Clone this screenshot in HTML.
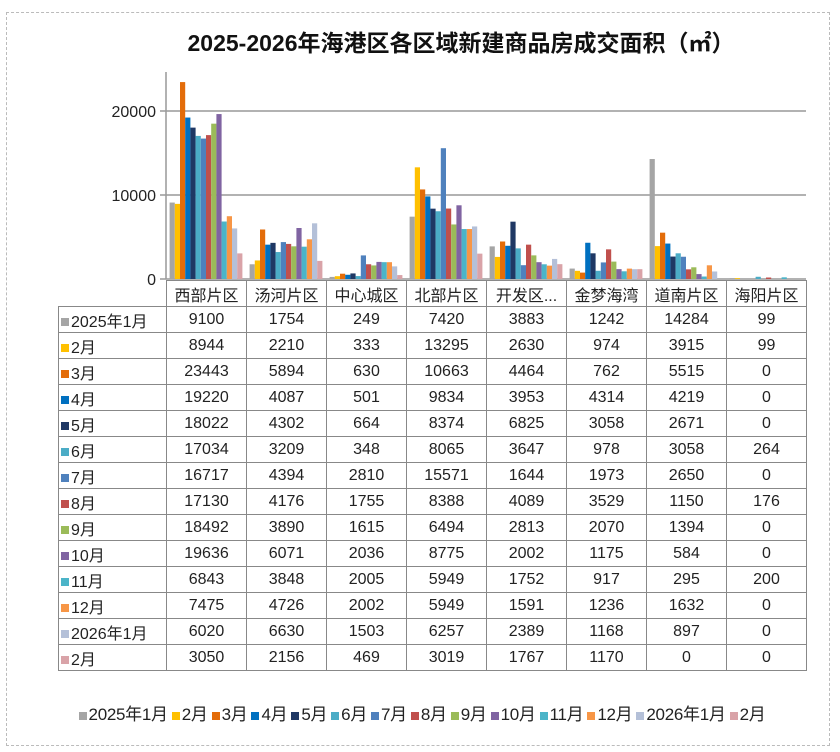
<!DOCTYPE html>
<html><head><meta charset="utf-8"><style>
body{margin:0;background:#fff;width:840px;height:752px;overflow:hidden;font-family:"Liberation Sans","Noto Sans CJK SC",sans-serif;}
.frame{position:absolute;left:6px;top:12px;width:822px;height:732px;border:1px dashed #bbb;}
.title{position:absolute;left:41px;width:840px;top:24px;text-align:center;font-weight:bold;font-size:23px;color:#111;}
table{position:absolute;left:58px;top:280px;border-collapse:collapse;font-size:16px;color:#222;}
td{border:1px solid #888;height:25px;padding:0;text-align:center;width:79px;}
td.l{width:105px;text-align:left;padding-left:2px;white-space:nowrap;}
td.e{border:none;}
.sw{display:inline-block;width:8px;height:8px;margin-right:2px;vertical-align:middle;}
.leg{position:absolute;top:700px;left:0;width:840px;text-align:center;font-size:17px;color:#222;white-space:nowrap;letter-spacing:-0.3px;}
.leg span.sw{margin-left:4px;}
</style></head><body>
<div class="frame"></div>
<div class="title">2025-2026年海港区各区域新建商品房成交面积（㎡）</div>
<svg width="840" height="752" style="position:absolute;left:0;top:0">
<g stroke="#999" stroke-width="1.5">
<line x1="160" y1="111" x2="806" y2="111"/><line x1="160" y1="195" x2="806" y2="195"/><line x1="160" y1="279" x2="806" y2="279"/>
<line x1="166" y1="72" x2="166" y2="279"/>
</g>
<g font-size="16" fill="#222" text-anchor="end">
<text x="156" y="117">20000</text><text x="156" y="201">10000</text><text x="156" y="285">0</text>
</g>
<g id="bars"></g>
</svg>
<table>
<tr><td class="l e"></td><td>西部片区</td><td>汤河片区</td><td>中心城区</td><td>北部片区</td><td>开发区...</td><td>金梦海湾</td><td>道南片区</td><td>海阳片区</td></tr>
<tr><td class="l"><span class="sw" style="background:#a5a5a5"></span>2025年1月</td><td>9100</td><td>1754</td><td>249</td><td>7420</td><td>3883</td><td>1242</td><td>14284</td><td>99</td></tr>
<tr><td class="l"><span class="sw" style="background:#ffc000"></span>2月</td><td>8944</td><td>2210</td><td>333</td><td>13295</td><td>2630</td><td>974</td><td>3915</td><td>99</td></tr>
<tr><td class="l"><span class="sw" style="background:#e36c09"></span>3月</td><td>23443</td><td>5894</td><td>630</td><td>10663</td><td>4464</td><td>762</td><td>5515</td><td>0</td></tr>
<tr><td class="l"><span class="sw" style="background:#0070c0"></span>4月</td><td>19220</td><td>4087</td><td>501</td><td>9834</td><td>3953</td><td>4314</td><td>4219</td><td>0</td></tr>
<tr><td class="l"><span class="sw" style="background:#1f3864"></span>5月</td><td>18022</td><td>4302</td><td>664</td><td>8374</td><td>6825</td><td>3058</td><td>2671</td><td>0</td></tr>
<tr><td class="l"><span class="sw" style="background:#4bacc6"></span>6月</td><td>17034</td><td>3209</td><td>348</td><td>8065</td><td>3647</td><td>978</td><td>3058</td><td>264</td></tr>
<tr><td class="l"><span class="sw" style="background:#4f81bd"></span>7月</td><td>16717</td><td>4394</td><td>2810</td><td>15571</td><td>1644</td><td>1973</td><td>2650</td><td>0</td></tr>
<tr><td class="l"><span class="sw" style="background:#c0504d"></span>8月</td><td>17130</td><td>4176</td><td>1755</td><td>8388</td><td>4089</td><td>3529</td><td>1150</td><td>176</td></tr>
<tr><td class="l"><span class="sw" style="background:#9bbb59"></span>9月</td><td>18492</td><td>3890</td><td>1615</td><td>6494</td><td>2813</td><td>2070</td><td>1394</td><td>0</td></tr>
<tr><td class="l"><span class="sw" style="background:#8064a2"></span>10月</td><td>19636</td><td>6071</td><td>2036</td><td>8775</td><td>2002</td><td>1175</td><td>584</td><td>0</td></tr>
<tr><td class="l"><span class="sw" style="background:#4bb4c8"></span>11月</td><td>6843</td><td>3848</td><td>2005</td><td>5949</td><td>1752</td><td>917</td><td>295</td><td>200</td></tr>
<tr><td class="l"><span class="sw" style="background:#f79646"></span>12月</td><td>7475</td><td>4726</td><td>2002</td><td>5949</td><td>1591</td><td>1236</td><td>1632</td><td>0</td></tr>
<tr><td class="l"><span class="sw" style="background:#b4c0d8"></span>2026年1月</td><td>6020</td><td>6630</td><td>1503</td><td>6257</td><td>2389</td><td>1168</td><td>897</td><td>0</td></tr>
<tr><td class="l"><span class="sw" style="background:#d9a3a8"></span>2月</td><td>3050</td><td>2156</td><td>469</td><td>3019</td><td>1767</td><td>1170</td><td>0</td><td>0</td></tr>
</table>
<div class="leg"><span class="sw" style="background:#a5a5a5"></span>2025年1月<span class="sw" style="background:#ffc000"></span>2月<span class="sw" style="background:#e36c09"></span>3月<span class="sw" style="background:#0070c0"></span>4月<span class="sw" style="background:#1f3864"></span>5月<span class="sw" style="background:#4bacc6"></span>6月<span class="sw" style="background:#4f81bd"></span>7月<span class="sw" style="background:#c0504d"></span>8月<span class="sw" style="background:#9bbb59"></span>9月<span class="sw" style="background:#8064a2"></span>10月<span class="sw" style="background:#4bb4c8"></span>11月<span class="sw" style="background:#f79646"></span>12月<span class="sw" style="background:#b4c0d8"></span>2026年1月<span class="sw" style="background:#d9a3a8"></span>2月</div>
<script>
var d=[[9100,1754,249,7420,3883,1242,14284,99],[8944,2210,333,13295,2630,974,3915,99],[23443,5894,630,10663,4464,762,5515,0],[19220,4087,501,9834,3953,4314,4219,0],[18022,4302,664,8374,6825,3058,2671,0],[17034,3209,348,8065,3647,978,3058,264],[16717,4394,2810,15571,1644,1973,2650,0],[17130,4176,1755,8388,4089,3529,1150,176],[18492,3890,1615,6494,2813,2070,1394,0],[19636,6071,2036,8775,2002,1175,584,0],[6843,3848,2005,5949,1752,917,295,200],[7475,4726,2002,5949,1591,1236,1632,0],[6020,6630,1503,6257,2389,1168,897,0],[3050,2156,469,3019,1767,1170,0,0]];
var c=["#a5a5a5","#ffc000","#e36c09","#0070c0","#1f3864","#4bacc6","#4f81bd","#c0504d","#9bbb59","#8064a2","#4bb4c8","#f79646","#b4c0d8","#d9a3a8"];
var s="",bw=5.2;
for(var k=0;k<8;k++)for(var i=0;i<14;i++){var v=d[i][k],h=v*0.0084,x=166+k*80+3.6+i*bw;s+='<rect x="'+x.toFixed(2)+'" y="'+(279-h).toFixed(2)+'" width="'+bw+'" height="'+h.toFixed(2)+'" fill="'+c[i]+'"/>';}
document.getElementById("bars").innerHTML=s;
</script>
</body></html>
